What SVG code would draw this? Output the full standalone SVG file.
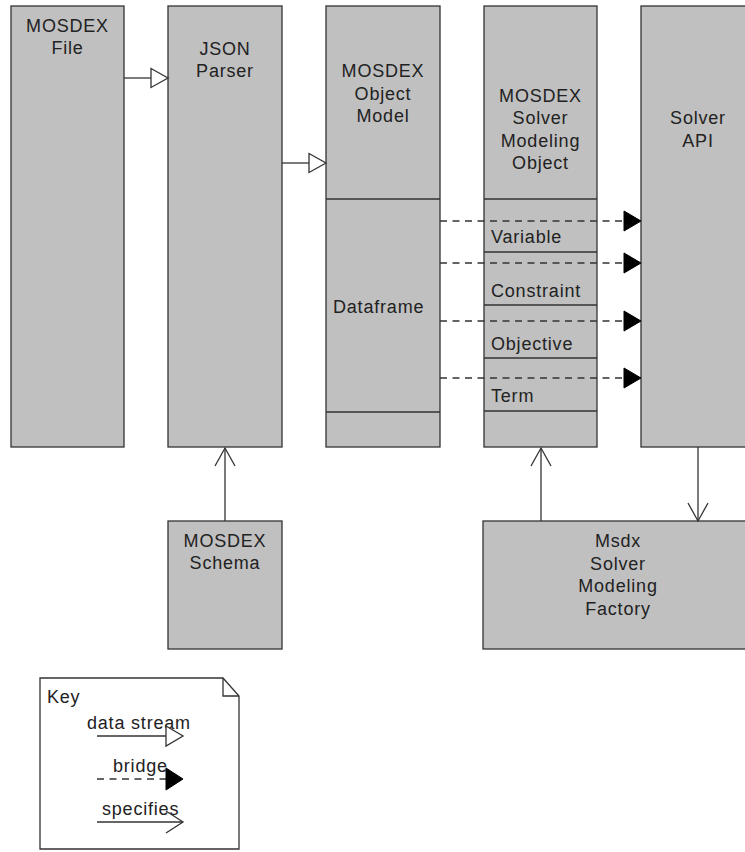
<svg xmlns="http://www.w3.org/2000/svg" width="745" height="852" viewBox="0 0 745 852">
<defs>
<style>
.box{fill:#c0c0c0;stroke:#333;stroke-width:1.3}
.div{stroke:#333;stroke-width:1.3;fill:none}
.t{font-family:"Liberation Sans",Arial,sans-serif;font-size:18px;letter-spacing:0.8px;fill:#222}
.c{text-anchor:middle}
.ln{stroke:#333;stroke-width:1.3;fill:none}
.dash{stroke:#333;stroke-width:1.3;fill:none;stroke-dasharray:7 5.5}
.open{fill:#fff;stroke:#333;stroke-width:1.3}
.solid{fill:#000;stroke:#000;stroke-width:1}
</style>
</defs>
<rect width="745" height="852" fill="#fff"/>
<g id="mosdex-file">
<rect class="box" x="11" y="6" width="113" height="441"/>
<text class="t c" x="67.5" y="32">MOSDEX</text>
<text class="t c" x="67.5" y="54">File</text>
</g>
<g id="json-parser">
<rect class="box" x="168" y="6" width="114" height="441"/>
<text class="t c" x="225" y="55">JSON</text>
<text class="t c" x="225" y="77">Parser</text>
</g>
<g id="object-model">
<rect class="box" x="326" y="6" width="114" height="441"/>
<line class="div" x1="326" y1="199" x2="440" y2="199"/>
<line class="div" x1="326" y1="412" x2="440" y2="412"/>
<text class="t c" x="383" y="77">MOSDEX</text>
<text class="t c" x="383" y="100">Object</text>
<text class="t c" x="383" y="122">Model</text>
<text class="t" x="333" y="313">Dataframe</text>
</g>
<g id="solver-modeling-object">
<rect class="box" x="484" y="6" width="113" height="441"/>
<line class="div" x1="484" y1="199" x2="597" y2="199"/>
<line class="div" x1="484" y1="252" x2="597" y2="252"/>
<line class="div" x1="484" y1="305" x2="597" y2="305"/>
<line class="div" x1="484" y1="358" x2="597" y2="358"/>
<line class="div" x1="484" y1="411" x2="597" y2="411"/>
<text class="t c" x="540.5" y="102">MOSDEX</text>
<text class="t c" x="540.5" y="124">Solver</text>
<text class="t c" x="540.5" y="147">Modeling</text>
<text class="t c" x="540.5" y="169">Object</text>
<text class="t" x="491" y="243">Variable</text>
<text class="t" x="491" y="297">Constraint</text>
<text class="t" x="491" y="350">Objective</text>
<text class="t" x="491" y="402">Term</text>
</g>
<g id="solver-api">
<rect class="box" x="641" y="6" width="114" height="441"/>
<text class="t c" x="698" y="124">Solver</text>
<text class="t c" x="698" y="147">API</text>
</g>
<g id="mosdex-schema">
<rect class="box" x="168" y="521" width="114" height="128"/>
<text class="t c" x="225" y="547">MOSDEX</text>
<text class="t c" x="225" y="569">Schema</text>
</g>
<g id="factory">
<rect class="box" x="483" y="521" width="270" height="128"/>
<text class="t c" x="618" y="547">Msdx</text>
<text class="t c" x="618" y="570">Solver</text>
<text class="t c" x="618" y="592">Modeling</text>
<text class="t c" x="618" y="615">Factory</text>
</g>
<g id="connectors">
<line class="ln" x1="124" y1="78" x2="151" y2="78"/>
<polygon class="open" points="151,68.5 168,78 151,87.5"/>
<line class="ln" x1="282" y1="163" x2="309" y2="163"/>
<polygon class="open" points="309,153.5 326,163 309,172.5"/>
<line class="dash" x1="440" y1="221" x2="624" y2="221"/>
<polygon class="solid" points="624,211 641,221 624,231"/>
<line class="dash" x1="440" y1="263" x2="624" y2="263"/>
<polygon class="solid" points="624,253 641,263 624,273"/>
<line class="dash" x1="440" y1="321" x2="624" y2="321"/>
<polygon class="solid" points="624,311 641,321 624,331"/>
<line class="dash" x1="440" y1="378" x2="624" y2="378"/>
<polygon class="solid" points="624,368 641,378 624,388"/>
<line class="ln" x1="225" y1="521" x2="225" y2="448"/>
<polyline class="ln" points="215,466 225,448 235,466"/>
<line class="ln" x1="541" y1="521" x2="541" y2="448"/>
<polyline class="ln" points="531,466 541,448 551,466"/>
<line class="ln" x1="698" y1="447" x2="698" y2="521"/>
<polyline class="ln" points="688,503 698,521 708,503"/>
</g>
<g id="key">
<polygon fill="#fff" stroke="#333" stroke-width="1.3" points="40,678 223,678 239,696 239,849 40,849"/>
<polyline class="ln" points="223,678 223,696 239,696"/>
<text class="t" x="47" y="703">Key</text>
<text class="t" x="87" y="729">data stream</text>
<line class="ln" x1="97" y1="736" x2="166" y2="736"/>
<polygon class="open" points="166,726 183,736 166,746"/>
<text class="t" x="113" y="772">bridge</text>
<line class="dash" x1="97" y1="779" x2="166" y2="779"/>
<polygon class="solid" points="166,768 183,779 166,790"/>
<text class="t" x="102" y="815">specifies</text>
<line class="ln" x1="97" y1="822" x2="183" y2="822"/>
<polyline class="ln" points="166,811 183,822 166,833"/>
</g>
</svg>
